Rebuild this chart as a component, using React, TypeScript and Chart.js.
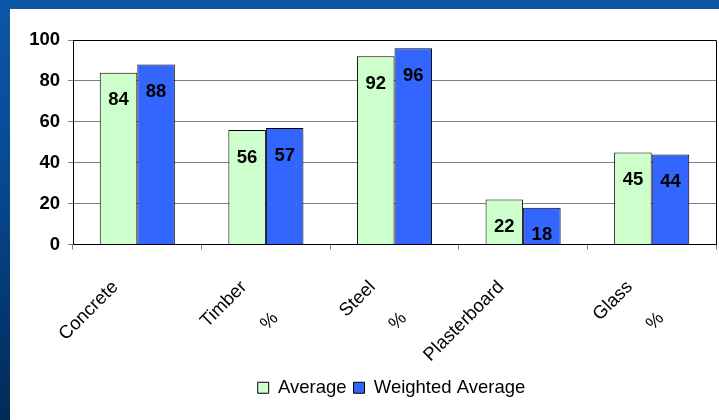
import React, { useEffect, useRef } from "react";
import { Chart, registerables } from "chart.js";

Chart.register(...registerables);

const categories: string[][] = [["Concrete"], ["Timber", "%"], ["Steel", "%"], ["Plasterboard"], ["Glass", "%"]];
const averageValues = [84, 56, 92, 22, 45];
const weightedValues = [88, 57, 96, 18, 44];
const yMin = 0;
const yMax = 100;
const yStep = 20;
const seriesNames = ["Average", "Weighted Average"];

const FONT = '"Liberation Sans", Arial, Helvetica, sans-serif';

const valueLabels = {
  id: "valueLabels",
  afterDatasetsDraw(chart: any) {
    const ctx = chart.ctx;
    ctx.save();
    ctx.font = `bold 18.5px ${FONT}`;
    ctx.fillStyle = "#000";
    ctx.textAlign = "center";
    ctx.textBaseline = "middle";
    chart.data.datasets.forEach((ds: any, di: number) => {
      chart.getDatasetMeta(di).data.forEach((bar: any, i: number) => {
        ctx.fillText(String(ds.data[i]), bar.x, bar.y + 27.5);
      });
    });
    ctx.restore();
  },
};

const plotFrame = {
  id: "plotFrame",
  afterDatasetsDraw(chart: any) {
    const { ctx, chartArea } = chart;
    const t = Math.round(chartArea.top) + 0.5;
    const r = Math.round(chartArea.right) + 0.5;
    const b = Math.round(chartArea.bottom);
    ctx.save();
    ctx.strokeStyle = "#000";
    ctx.lineWidth = 1;
    ctx.beginPath();
    ctx.moveTo(Math.round(chartArea.left), t);
    ctx.lineTo(r, t);
    ctx.lineTo(r, b);
    ctx.stroke();
    ctx.restore();
  },
};

// centre the legend under the plot area instead of the whole canvas
const legendShift = {
  id: "legendShift",
  afterLayout(chart: any) {
    const lg = chart.legend;
    if (!lg) return;
    const target = (chart.chartArea.left + chart.chartArea.right) / 2 - 3;
    const dx = target - (lg.left + lg.right) / 2;
    lg.left += dx;
    lg.right += dx;
  },
};

export default function App() {
  const ref = useRef<HTMLCanvasElement>(null);

  useEffect(() => {
    if (!ref.current) return;
    Chart.defaults.font.family = FONT;
    const chart = new Chart(ref.current, {
      type: "bar",
      data: {
        labels: categories,
        datasets: [
          {
            label: seriesNames[0],
            data: averageValues,
            backgroundColor: "#CCFFCC",
            borderColor: "#000",
            borderWidth: 1,
            barPercentage: 1,
            categoryPercentage: 0.584,
          },
          {
            label: seriesNames[1],
            data: weightedValues,
            backgroundColor: "#3366FF",
            borderColor: "#000",
            borderWidth: 1,
            barPercentage: 1,
            categoryPercentage: 0.584,
          },
        ],
      },
      options: {
        animation: false,
        responsive: false,
        maintainAspectRatio: false,
        layout: { padding: { left: 0, right: 3, top: 31, bottom: 13 } },
        plugins: {
          legend: {
            position: "bottom",
            labels: {
              boxWidth: 11,
              boxHeight: 11,
              padding: 7,
              color: "#000",
              font: { size: 18.5, family: FONT },
            },
          },
          tooltip: { enabled: false },
          title: { display: false },
        },
        scales: {
          x: {
            offset: true,
            afterFit(scale: any) {
              scale.height = 127;
              scale.paddingLeft = 0;
              scale.paddingRight = 0;
            },
            grid: {
              offset: true,
              drawOnChartArea: false,
              drawTicks: true,
              tickLength: 5,
              color: "#808080",
            },
            border: { display: true, color: "#000", width: 1 },
            ticks: {
              minRotation: 45,
              maxRotation: 45,
              autoSkip: false,
              padding: 19,
              labelOffset: -22,
              color: "#000",
              font: { size: 18.5, family: FONT, lineHeight: 2.4 },
            },
          },
          y: {
            min: yMin,
            max: yMax,
            afterFit(scale: any) {
              scale.width = 63;
            },
            grid: {
              color: "#808080",
              tickLength: 5,
              tickColor: "#808080",
            },
            border: { display: true, color: "#000", width: 1 },
            ticks: {
              stepSize: yStep,
              padding: 8,
              color: "#000",
              font: { size: 18.5, weight: "bold", family: FONT },
            },
          },
        },
      },
      plugins: [valueLabels, plotFrame, legendShift],
    });
    return () => chart.destroy();
  }, []);

  return (
    <div
      style={{
        position: "fixed",
        left: 0,
        top: 0,
        width: 719,
        height: 420,
        overflow: "hidden",
        background: "linear-gradient(180deg, #0C57A8 0%, #074a94 40%, #012A57 100%)",
      }}
    >
      <div
        style={{
          position: "absolute",
          left: 10,
          top: 9,
          width: 709,
          height: 411,
          background: "#fff",
        }}
      >
        <canvas ref={ref} width={709} height={411} style={{ display: "block", width: 709, height: 411 }} />
      </div>
    </div>
  );
}
